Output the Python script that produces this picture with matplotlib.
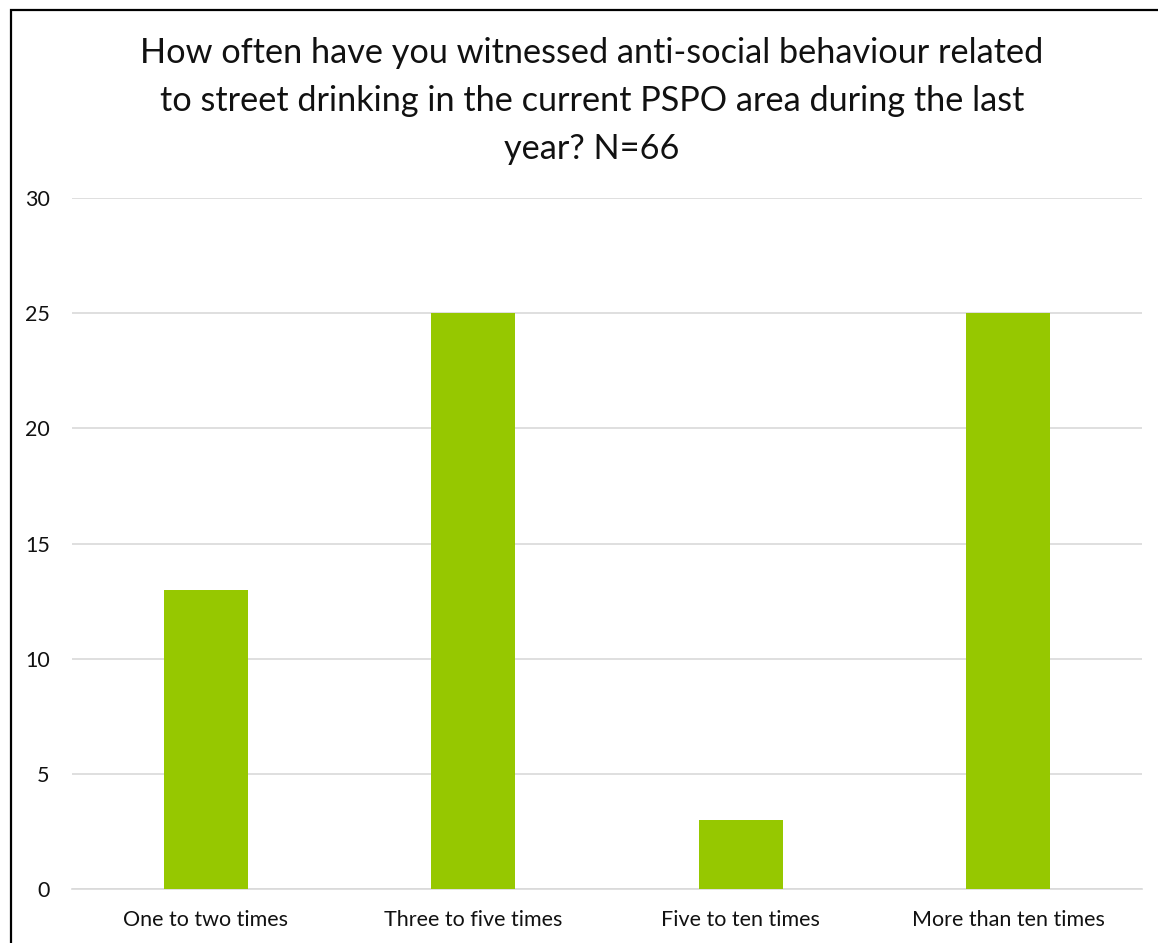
import matplotlib
matplotlib.use('Agg')
import matplotlib.pyplot as plt
from matplotlib.patches import Rectangle
import numpy as np

# data
categories = ['One to two times', 'Three to five times', 'Five to ten times', 'More than ten times']
counts = [13, 25, 3, 25]
y_ticks = [0, 5, 10, 15, 20, 25, 30]
title = ('How often have you witnessed anti-social behaviour related\n'
         'to street drinking in the current PSPO area during the last\n'
         'year? N=66')

plt.rcParams['font.family'] = ['Lato', 'DejaVu Sans']

fig = plt.figure(figsize=(11.58, 9.43), dpi=100)
W, H = 1158, 943
ax = fig.add_axes([72 / W, 1 - 889 / H, (1142 - 72) / W, (889 - 198) / H])

x = np.arange(len(categories))
ax.bar(x, counts, width=0.314, color='#96C800', zorder=3)

ax.set_xlim(-0.5, len(categories) - 0.5)
ax.set_ylim(0, 30)
ax.set_yticks(y_ticks)
ax.set_xticks(x)
ax.set_xticklabels(categories, fontsize=15.5, color='#111111')
ax.tick_params(axis='y', length=0, pad=16, labelsize=15.5, labelcolor='#111111')
ax.tick_params(axis='x', length=0, pad=15)
ax.grid(axis='y', color='#D9D9D9', linewidth=1.2, zorder=0)
for s in ['top', 'right', 'left']:
    ax.spines[s].set_visible(False)
ax.spines['bottom'].set_color('#D9D9D9')
ax.spines['bottom'].set_linewidth(1.2)

fig.text(592 / W, 1 - 101 / H, title, ha='center', va='center', fontsize=24.7,
         color='#111111', linespacing=1.6)

# outer chart border (only left and top edges fall inside the image)
fig.patches.append(Rectangle((10.5 / W, -0.1), 2, 1.1 - 10.5 / H,
                             transform=fig.transFigure, fill=False,
                             edgecolor='black', linewidth=1.6))

fig.savefig('out.png', dpi=100)
